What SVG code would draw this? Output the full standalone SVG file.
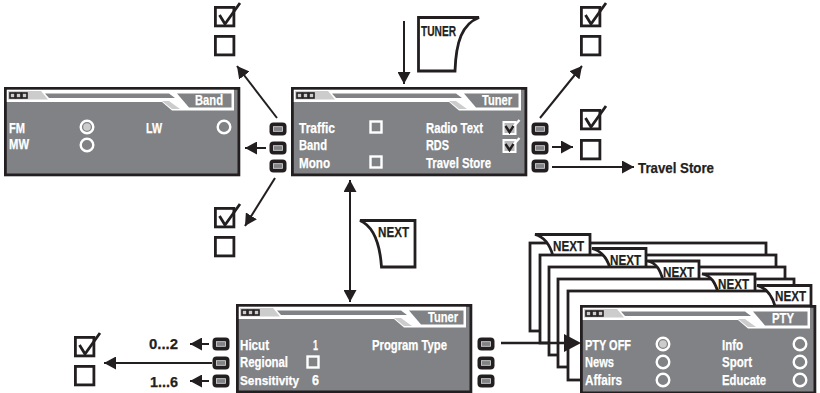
<svg xmlns="http://www.w3.org/2000/svg" width="820" height="393" viewBox="0 0 820 393">
<style>
text{font-family:"Liberation Sans",Arial,sans-serif;font-weight:700;font-size:15px}
.w{fill:#fff;stroke:#fff;stroke-width:.25}
.k{fill:#231f20;stroke:#231f20;stroke-width:.25}
.line{fill:none;stroke:#231f20;stroke-width:2;marker-end:url(#a)}
.box{fill:none;stroke:#231f20;stroke-width:2.800}
.rad{fill:none;stroke:#fff;stroke-width:2.400}
.sq{fill:none;stroke:#fff;stroke-width:2.400}
.page{fill:#fff;stroke:#231f20;stroke-width:2.800}
</style>
<defs>
<marker id="a" markerUnits="userSpaceOnUse" markerWidth="13" markerHeight="13" refX="12" refY="6.500" orient="auto-start-reverse" viewBox="0 0 13 13"><path d="M0 0L12 6.500L0 13Z" fill="#231f20"/></marker>
<g id="panel">
<rect x="1.400" y="1.400" width="233.500" height="86.500" fill="#808285" stroke="#231f20" stroke-width="2.800"/>
<path d="M2.800 2.800H230V23.500H168L158 15H2.800Z" fill="#fff"/>
<path d="M4 4H37L44 12.500H4Z" fill="#ccc"/>
<path d="M41 6.500H165L171 11H45Z" fill="#808285"/>
<path d="M158 14H165L176 22H168Z" fill="#ccc"/>
<path d="M173 6.500H227.500V20.500H185Z" fill="#808285"/>
<g fill="#ccc" stroke="#231f20" stroke-width="1.600"><rect x="6" y="6" width="5" height="5"/><rect x="12" y="6" width="5" height="5"/><rect x="18" y="6" width="5" height="5"/></g>
</g>
<g id="btn"><rect x="-8.500" y="-6.500" width="17" height="13" rx="4" fill="#231f20"/><rect x="-4.500" y="-2.300" width="9" height="4.600" fill="#808285" stroke="#ddd" stroke-width=".8"/></g>
<g id="cb"><rect class="box" x="1.400" y="1.400" width="18.500" height="18.500"/><path d="M5.500 9L11 18L26 -3" fill="none" stroke="#231f20" stroke-width="2.800"/></g>
<g id="eb"><rect class="box" x="1.400" y="1.400" width="18.500" height="18.500"/></g>
<g id="rc"><circle r="6.300" class="rad"/></g>
<g id="rs"><circle r="6.300" class="rad"/><circle r="3.800" fill="#ccc"/></g>
<g id="sb"><rect x="-5.500" y="-5.500" width="11" height="11" class="sq"/></g>
<g id="wc"><rect x="-6" y="-6" width="12" height="12" fill="#b8b8ba" stroke="#fff" stroke-width="2"/><path d="M1 2L10 -8" fill="none" stroke="#fff" stroke-width="2.400"/><path d="M-4 -2L0 4L4 -2" fill="none" stroke="#231f20" stroke-width="2.400"/></g>
</defs>

<g id="connectors">
<path class="line" d="M277 118L237 66"/>
<path class="line" d="M266 148L245 148"/>
<path class="line" d="M275 178L245 226"/>
<path class="line" d="M540 118L582 66"/>
<path class="line" d="M552 147L573 147"/>
<path class="line" d="M552 167L634 167"/>
<path class="line" d="M404 21L404 84"/>
<path class="line" style="marker-start:url(#a)" d="M350 180L350 302"/>
<path class="line" d="M209 344L190 344"/>
<path class="line" d="M212 363L104 363"/>
<path class="line" d="M209 381L190 381"/>
</g>

<g id="tuner-key"><path d="M418.500 17.500H479C462 24 456 42 455 71H418.500Z" fill="#fff" stroke="#231f20" stroke-width="2.800"/><text class="k" x="421" y="35.500" textLength="35" lengthAdjust="spacingAndGlyphs">TUNER</text></g>
<g id="next-key"><path d="M360 220.500H415V267H381.500C380 245 375 227 360 220.500Z" fill="#fff" stroke="#231f20" stroke-width="2.800"/><text class="k" x="378" y="237" textLength="31" lengthAdjust="spacingAndGlyphs">NEXT</text></g>

<g id="checks-left"><use href="#cb" x="214" y="6"/><use href="#eb" x="214" y="35"/><use href="#cb" x="214" y="207"/><use href="#eb" x="214" y="236"/></g>
<g id="checks-right"><use href="#cb" x="580" y="6"/><use href="#eb" x="580" y="35"/><use href="#cb" x="580" y="109"/><use href="#eb" x="580" y="139"/></g>
<g id="checks-bottom"><use href="#cb" x="74" y="336"/><use href="#eb" x="74" y="365"/></g>

<g id="band-panel">
<use href="#panel" x="4" y="87"/>
<text class="w" x="195" y="105" textLength="28" lengthAdjust="spacingAndGlyphs">Band</text>
<text class="w" x="9" y="133" textLength="16" lengthAdjust="spacingAndGlyphs">FM</text><text class="w" x="9" y="149" textLength="20" lengthAdjust="spacingAndGlyphs">MW</text><text class="w" x="146" y="133" textLength="16" lengthAdjust="spacingAndGlyphs">LW</text>
<use href="#rs" x="87" y="127"/><use href="#rc" x="87" y="145"/><use href="#rc" x="224" y="127"/>
</g>
<g id="tuner-panel">
<use href="#panel" x="291" y="87"/>
<text class="w" x="482" y="105" textLength="30" lengthAdjust="spacingAndGlyphs">Tuner</text>
<text class="w" x="299" y="133" textLength="36" lengthAdjust="spacingAndGlyphs">Traffic</text><text class="w" x="299" y="150" textLength="28" lengthAdjust="spacingAndGlyphs">Band</text><text class="w" x="299" y="168" textLength="31" lengthAdjust="spacingAndGlyphs">Mono</text>
<text class="w" x="426" y="133" textLength="57" lengthAdjust="spacingAndGlyphs">Radio Text</text><text class="w" x="426" y="150" textLength="23" lengthAdjust="spacingAndGlyphs">RDS</text><text class="w" x="426" y="168" textLength="65" lengthAdjust="spacingAndGlyphs">Travel Store</text>
<use href="#sb" x="376" y="127"/><use href="#sb" x="376" y="162"/>
<use href="#wc" x="509.500" y="128"/><use href="#wc" x="509.500" y="146"/>
</g>
<g id="tuner2-panel">
<use href="#panel" x="236" y="304"/>
<text class="w" x="428" y="322" textLength="30" lengthAdjust="spacingAndGlyphs">Tuner</text>
<text class="w" x="240" y="350" textLength="29" lengthAdjust="spacingAndGlyphs">Hicut</text><text class="w" x="240" y="367" textLength="48" lengthAdjust="spacingAndGlyphs">Regional</text><text class="w" x="240" y="385" style="font-size:13.500px" textLength="59" lengthAdjust="spacingAndGlyphs">Sensitivity</text>
<text class="w" x="372" y="350" textLength="75" lengthAdjust="spacingAndGlyphs">Program Type</text><text class="w" x="313" y="350" textLength="5" lengthAdjust="spacingAndGlyphs">1</text><text class="w" x="312" y="385" textLength="7" lengthAdjust="spacingAndGlyphs">6</text>
<use href="#sb" x="313" y="362"/>
</g>

<g id="buttons">
<use href="#btn" x="278" y="129"/><use href="#btn" x="278" y="148"/><use href="#btn" x="278" y="166"/>
<use href="#btn" x="540" y="129"/><use href="#btn" x="540" y="148"/><use href="#btn" x="540" y="166"/>
<use href="#btn" x="221" y="344"/><use href="#btn" x="221" y="363"/><use href="#btn" x="221" y="381"/>
<use href="#btn" x="486" y="344"/><use href="#btn" x="486" y="363"/><use href="#btn" x="486" y="381"/>
</g>

<g id="labels">
<text class="k" x="638" y="173" textLength="76" lengthAdjust="spacingAndGlyphs">Travel Store</text>
<text class="k" x="149" y="349" textLength="29" lengthAdjust="spacingAndGlyphs">0...2</text>
<text class="k" x="150" y="387" textLength="28" lengthAdjust="spacingAndGlyphs">1...6</text>
</g>

<g id="pty-stack">
<rect class="page" x="530" y="243" width="236" height="88"/>
<path class="page" d="M535 234.500H590V256H553C550 245 545 237 535 234.500Z"/><text class="k" x="553" y="251" textLength="31" lengthAdjust="spacingAndGlyphs">NEXT</text>
<rect class="page" x="540" y="255" width="236" height="88"/>
<path class="page" d="M592 248.500H646V268H610C607 258 602 251 592 248.500Z"/><text class="k" x="610" y="265" textLength="31" lengthAdjust="spacingAndGlyphs">NEXT</text>
<rect class="page" x="549" y="267" width="236" height="88"/>
<path class="page" d="M647 261H699V280H663C660 270 657 263 647 261Z"/><text class="k" x="663" y="277" textLength="31" lengthAdjust="spacingAndGlyphs">NEXT</text>
<rect class="page" x="558" y="279" width="236" height="88"/>
<path class="page" d="M702 274H755V292H718C715 283 712 276 702 274Z"/><text class="k" x="718" y="289" textLength="31" lengthAdjust="spacingAndGlyphs">NEXT</text>
<rect class="page" x="568" y="291" width="236" height="89"/>
<path class="page" d="M757 285.500H811V306H775C772 296 767 288 757 285.500Z"/><text class="k" x="775" y="301" textLength="31" lengthAdjust="spacingAndGlyphs">NEXT</text>
</g>
<g id="pty-panel">
<use href="#panel" x="580" y="305"/>
<text class="w" x="772" y="323" textLength="22" lengthAdjust="spacingAndGlyphs">PTY</text>
<text class="w" x="585" y="350" textLength="46" lengthAdjust="spacingAndGlyphs">PTY OFF</text><text class="w" x="585" y="367" textLength="29" lengthAdjust="spacingAndGlyphs">News</text><text class="w" x="585" y="385" textLength="37" lengthAdjust="spacingAndGlyphs">Affairs</text>
<text class="w" x="722" y="350" textLength="21" lengthAdjust="spacingAndGlyphs">Info</text><text class="w" x="722" y="367" textLength="30" lengthAdjust="spacingAndGlyphs">Sport</text><text class="w" x="722" y="385" textLength="44" lengthAdjust="spacingAndGlyphs">Educate</text>
<use href="#rs" x="663" y="344"/><use href="#rc" x="663" y="362"/><use href="#rc" x="663" y="380"/>
<use href="#rc" x="800" y="344"/><use href="#rc" x="800" y="362"/><use href="#rc" x="800" y="380"/>
</g>
<g id="pty-arrow"><path d="M501 343H566" stroke="#231f20" stroke-width="2.400"/><path d="M564 334L581 343L564 352Z" fill="#231f20"/></g>
</svg>
